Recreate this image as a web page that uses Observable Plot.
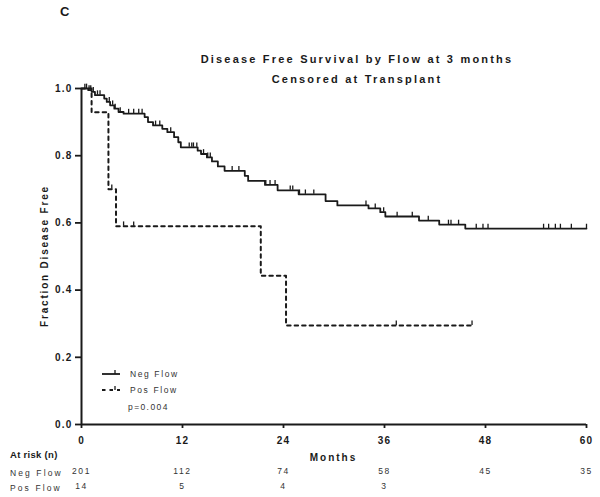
<!DOCTYPE html>
<html>
<head>
<meta charset="utf-8">
<script src="https://cdn.jsdelivr.net/npm/d3@7"></script>
<script src="https://cdn.jsdelivr.net/npm/@observablehq/plot@0.6"></script>
<style>
  html, body { margin: 0; padding: 0; background: #fff; }
  svg { display: block; }
</style>
</head>
<body>
<div id="chart"></div>
<script>
// ---- Data ----
const negTimes = [0, 0.8, 1.2, 1.6, 2.7, 3.0, 3.4, 3.9, 4.4, 5.0, 7.5, 7.9, 8.5, 9.6, 10.2, 11.0, 11.5, 11.8, 13.8, 14.2, 14.9, 15.5, 16.2, 17.0, 19.4, 19.8, 21.8, 23.3, 25.8, 29.0, 30.4, 34.1, 35.5, 36.1, 40.1, 42.5, 45.6, 60];
const negSurv  = [1.0, 0.995, 0.99, 0.98, 0.97, 0.96, 0.95, 0.94, 0.93, 0.925, 0.915, 0.90, 0.89, 0.88, 0.87, 0.855, 0.84, 0.825, 0.815, 0.805, 0.795, 0.783, 0.768, 0.755, 0.74, 0.725, 0.713, 0.697, 0.685, 0.665, 0.652, 0.643, 0.632, 0.619, 0.607, 0.595, 0.583, 0.583];
const negCensor = [0.4, 0.6, 0.9, 1.1, 1.4, 1.9, 2.2, 3.3, 3.7, 4.0, 4.6, 5.6, 6.2, 6.8, 7.2, 8.8, 9.3, 10.6, 12.8, 13.1, 13.3, 13.7, 14.5, 15.0, 15.3, 17.9, 18.7, 21.9, 22.4, 23.0, 24.8, 25.1, 25.9, 26.6, 27.6, 33.8, 34.9, 35.9, 37.5, 39.3, 41.2, 43.6, 43.9, 44.8, 46.9, 47.7, 48.3, 54.9, 55.5, 56.3, 56.9, 58.2, 60];

const posTimes = [0, 1.2, 3.2, 4.1, 21.3, 24.3, 46.4];
const posSurv  = [1.0, 0.929, 0.70, 0.59, 0.443, 0.295, 0.295];
const posCensor = [3.6, 5.0, 6.2, 37.4, 46.4];

const yTicks = [0, 0.2, 0.4, 0.6, 0.8, 1.0];
const xTicks = [0, 12, 24, 36, 48, 60];
const riskTimes = [0, 12, 24, 36, 48, 60];
const negRisk = [201, 112, 74, 58, 45, 35];
const posRisk = [14, 5, 4, 3];

const titleLines = ["Disease Free Survival by Flow at 3 months", "Censored at Transplant"];
const panelLabel = "c";
const seriesNames = ["Neg Flow", "Pos Flow"];
const pText = "p=0.004";

// ---- Build tables ----
const survAt = (times, surv, t) => { let v = surv[0]; for (let i = 0; i < times.length; i++) if (times[i] <= t) v = surv[i]; return v; };
const negLine = negTimes.map((t, i) => ({t, s: negSurv[i]}));
const posLine = posTimes.map((t, i) => ({t, s: posSurv[i]}));
const negC = negCensor.map(t => ({t, s: survAt(negTimes, negSurv, t)}));
const posC = posCensor.map(t => ({t, s: survAt(posTimes, posSurv, t)}));
const negRiskRows = negRisk.map((n, i) => ({t: riskTimes[i], n}));
const posRiskRows = posRisk.map((n, i) => ({t: riskTimes[i], n}));

const W = 600, H = 497;
const mL = 81, mR = 14, mT = 88, mB = 73;
const FONT = "Liberation Sans, Arial, Helvetica, sans-serif";
const ink = "#1a1a1a";

const chart = Plot.plot({
  width: W, height: H,
  marginLeft: mL, marginRight: mR, marginTop: mT, marginBottom: mB,
  style: {fontFamily: FONT, color: ink, background: "#fff"},
  x: {domain: [0, 60]},
  y: {domain: [0, 1]},
  marks: [
    Plot.axisY({ticks: yTicks, tickFormat: d3.format(".1f"), tickSize: 6, tickPadding: 3, fontSize: 10, fontWeight: "bold", label: null}),
    Plot.axisX({ticks: xTicks, tickSize: 4, tickPadding: 8, fontSize: 10, fontWeight: "bold", label: null}),
    Plot.line(negLine, {x: "t", y: "s", curve: "step-after", stroke: ink, strokeWidth: 1.8}),
    Plot.line(posLine, {x: "t", y: "s", curve: "step-after", stroke: ink, strokeWidth: 2, strokeDasharray: "3.5,4"}),
    Plot.ruleX(negC, {x: "t", y1: "s", y2: d => d.s + 0.013, stroke: ink, strokeWidth: 1.3}),
    Plot.ruleX(posC, {x: "t", y1: "s", y2: d => d.s + 0.013, stroke: ink, strokeWidth: 1.3}),
    Plot.ruleY([0], {stroke: ink, strokeWidth: 2}),
    Plot.ruleX([0], {stroke: ink, strokeWidth: 2}),
    // at-risk numbers, positioned through the x scale
    Plot.text(negRiskRows, {x: "t", frameAnchor: "bottom", dy: 49, text: "n", fontSize: 8.5, fill: "#333"}),
    Plot.text(posRiskRows, {x: "t", frameAnchor: "bottom", dy: 64, text: "n", fontSize: 8.5, fill: "#333"})
  ]
});

const svg = d3.select(chart);
svg.selectAll("[aria-label='y-axis tick label'] text, [aria-label='x-axis tick label'] text").attr("letter-spacing", "1.2px");
svg.selectAll("[aria-label='y-axis tick'] path, [aria-label='x-axis tick'] path").attr("stroke-width", 1.8);
svg.selectAll("[aria-label='text'] text").attr("letter-spacing", "1.6px");

const cx = 357;
const g = svg.append("g").attr("font-family", FONT).attr("fill", ink).attr("text-anchor", "start");

g.append("text").attr("x", 60).attr("y", 16).attr("font-size", 13).attr("font-weight", "bold").text(panelLabel.toUpperCase());
titleLines.forEach((s, i) => g.append("text").attr("x", cx).attr("y", 63 + i * 20).attr("text-anchor", "middle")
  .attr("font-size", 11).attr("font-weight", "bold").attr("letter-spacing", "2.2px").text(s));

// y label
g.append("text").attr("transform", `translate(48,${(mT + H - mB) / 2}) rotate(-90)`).attr("text-anchor", "middle")
  .attr("font-size", 10).attr("font-weight", "bold").attr("letter-spacing", "1.8px").text("Fraction Disease Free");
// x label
g.append("text").attr("x", (mL + W - mR) / 2).attr("y", 461).attr("text-anchor", "middle")
  .attr("font-size", 10).attr("font-weight", "bold").attr("letter-spacing", "2px").text("Months");

// at-risk labels
g.append("text").attr("x", 10).attr("y", 458).attr("font-size", 9.5).attr("font-weight", "bold").attr("letter-spacing", "0.3px").text("At risk (n)");
seriesNames.forEach((s, i) => g.append("text").attr("x", 10).attr("y", 476 + i * 15).attr("font-size", 8.5)
  .attr("letter-spacing", "2.1px").attr("fill", "#333").text(s));

// legend
const lx = 102, ly = 374;
g.append("line").attr("x1", lx).attr("x2", lx + 18).attr("y1", ly).attr("y2", ly).attr("stroke", ink).attr("stroke-width", 1.8);
g.append("line").attr("x1", lx + 13).attr("x2", lx + 13).attr("y1", ly).attr("y2", ly - 4).attr("stroke", ink).attr("stroke-width", 1.3);
g.append("line").attr("x1", lx).attr("x2", lx + 18).attr("y1", ly + 16).attr("y2", ly + 16).attr("stroke", ink).attr("stroke-width", 2).attr("stroke-dasharray", "3.5,4");
g.append("line").attr("x1", lx + 13).attr("x2", lx + 13).attr("y1", ly + 16).attr("y2", ly + 12).attr("stroke", ink).attr("stroke-width", 1.3);
seriesNames.forEach((s, i) => g.append("text").attr("x", 130).attr("y", ly + 3 + i * 16).attr("font-size", 8.5)
  .attr("letter-spacing", "1.6px").attr("fill", "#333").text(s));
g.append("text").attr("x", 128).attr("y", 410).attr("font-size", 8.5).attr("letter-spacing", "1.4px").attr("fill", "#333").text(pText);

document.getElementById("chart").appendChild(chart);
</script>
</body>
</html>
